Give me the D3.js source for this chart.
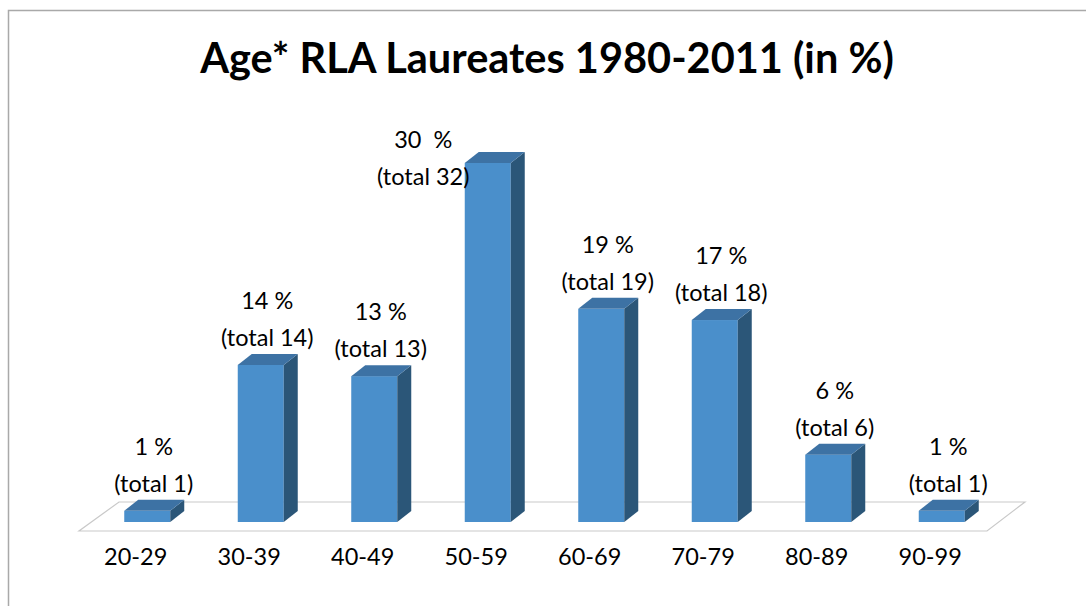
<!DOCTYPE html>
<html>
<head>
<meta charset="utf-8">
<script src="https://cdn.jsdelivr.net/npm/d3@7"></script>
<style>
  html, body { margin: 0; padding: 0; background: #ffffff; }
  svg { display: block; }
  text { font-family: Lato, "Open Sans", "Liberation Sans", sans-serif; fill: #000; }
</style>
</head>
<body>
<svg id="chart" width="1086" height="606"></svg>
<script>
// ---- data ----
const categories = ["20-29", "30-39", "40-49", "50-59", "60-69", "70-79", "80-89", "90-99"];
const totals = [1, 14, 13, 32, 19, 18, 6, 1];
const percentLabels = ["1 %", "14 %", "13 %", "30  %", "19 %", "17 %", "6 %", "1 %"];
const totalLabels = totals.map(t => "(total " + t + ")");
const title = "Age* RLA Laureates 1980-2011 (in %)";

// ---- layout ----
const svg = d3.select("#chart");

// frame (top and left lines)
svg.append("path")
  .attr("d", "M8.5,606 L8.5,10.5 L1086,10.5")
  .attr("fill", "none").attr("stroke", "#a9a9a9").attr("stroke-width", 1.5);

// title
svg.append("text")
  .attr("x", 547).attr("y", 73)
  .attr("text-anchor", "middle")
  .style("font-size", "41.5px").style("font-weight", "bold")
  .text(title);

const floorFront = 531, floorLeft = 79, floorRight = 987;
const floorDX = 38, floorDY = -29;
const barBase = 522;          // bottom of bar front face
const depthDX = 14, depthDY = -11;
const barW = 46;

const x = d3.scaleBand().domain(categories).range([floorLeft, floorRight]).padding(0);
const y = d3.scaleLinear().domain([0, 35]).range([barBase, barBase - 35 * 11.22]);

// floor plane
svg.append("path")
  .attr("d", `M${floorLeft},${floorFront} L${floorRight},${floorFront} L${floorRight + floorDX},${floorFront + floorDY} L${floorLeft + floorDX + 2},${floorFront + floorDY} Z`)
  .attr("fill", "#ffffff").attr("stroke", "#c9c9c9").attr("stroke-width", 1.2);

const data = categories.map((c, i) => ({ c, v: totals[i], p: percentLabels[i], t: totalLabels[i] }));

const bars = svg.append("g").selectAll("g").data(data).enter().append("g");

bars.each(function(d) {
  const g = d3.select(this);
  const cx = x(d.c) + x.bandwidth() / 2;
  const x0 = cx - 11.5, x1 = x0 + barW;
  const yt = y(d.v), yb = y(0);
  // front
  g.append("rect").attr("x", x0).attr("y", yt).attr("width", barW).attr("height", yb - yt)
    .attr("fill", "#4a8fcb");
  // side
  g.append("path")
    .attr("d", `M${x1},${yb} L${x1 + depthDX},${yb + depthDY} L${x1 + depthDX},${yt + depthDY} L${x1},${yt} Z`)
    .attr("fill", "#2b5678");
  // top
  g.append("path")
    .attr("d", `M${x0},${yt} L${x0 + depthDX},${yt + depthDY} L${x1 + depthDX},${yt + depthDY} L${x1},${yt} Z`)
    .attr("fill", "#3d72a4");
});

// data labels
const lineGap = 37;
const labelSize = "23.5px";
const labels = svg.append("g").selectAll("g").data(data).enter().append("g");
labels.each(function(d) {
  const g = d3.select(this);
  const cx = x(d.c) + x.bandwidth() / 2;
  let lx = cx + 18;
  let base2 = y(d.v) + depthDY - 8;
  if (base2 - lineGap - 20 < 100) {
    // not enough room above: place label to the left of the bar
    lx = cx - 53;
    base2 = y(d.v) + 22;
  }
  g.append("text").attr("x", lx).attr("y", base2 - lineGap)
    .attr("text-anchor", "middle").style("font-size", labelSize).style("white-space", "pre")
    .text(d.p);
  g.append("text").attr("x", lx).attr("y", base2)
    .attr("text-anchor", "middle").style("font-size", labelSize)
    .text(d.t);
});

// category axis labels
svg.append("g").selectAll("text").data(categories).enter().append("text")
  .attr("x", d => x(d) + x.bandwidth() / 2)
  .attr("y", 565)
  .attr("text-anchor", "middle")
  .style("font-size", "23.5px")
  .text(d => d);
</script>
</body>
</html>
